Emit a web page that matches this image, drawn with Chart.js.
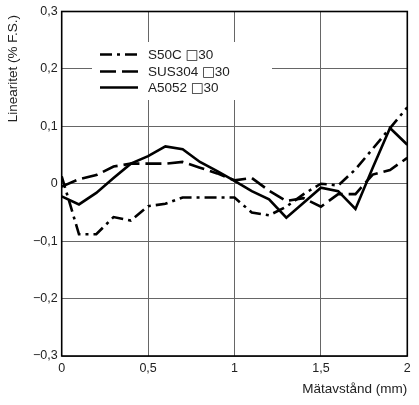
<!DOCTYPE html>
<html>
<head>
<meta charset="utf-8">
<script src="https://cdn.jsdelivr.net/npm/chart.js@4"></script>
<style>
html,body{margin:0;padding:0;background:#fff;}
#wrap{width:419px;height:405px;}
</style>
</head>
<body>
<div id="wrap"><canvas id="c" width="419" height="405"></canvas></div>
<script>
const xValues = [0,0.1,0.2,0.3,0.4,0.5,0.6,0.7,0.8,0.9,1.0,1.1,1.2,1.3,1.4,1.5,1.6,1.7,1.8,1.9,2.0];
const s50c   = [0.013,-0.088,-0.088,-0.058,-0.064,-0.039,-0.035,-0.024,-0.024,-0.024,-0.024,-0.050,-0.055,-0.040,-0.018,0.000,-0.003,0.025,0.061,0.097,0.133];
const sus304 = [-0.005,0.008,0.015,0.030,0.035,0.035,0.035,0.038,0.028,0.018,0.006,0.010,-0.012,-0.030,-0.025,-0.040,-0.018,-0.018,0.016,0.024,0.045];
const a5052  = [-0.022,-0.036,-0.016,0.010,0.035,0.048,0.065,0.060,0.038,0.022,0.005,-0.013,-0.027,-0.059,-0.033,-0.007,-0.013,-0.044,0.028,0.097,0.068];
const seriesLabels = ['S50C \u25A130','SUS304 \u25A130','A5052 \u25A130'];
const xTickValues = [0,0.5,1,1.5,2];
const xTickLabels = ['0','0,5','1','1,5','2'];
const yTickValues = [-0.3,-0.2,-0.1,0,0.1,0.2,0.3];
const yTickLabels = ['\u22120,3','\u22120,2','\u22120,1','0','0,1','0,2','0,3'];
const xTitle = 'M\u00e4tavst\u00e5nd (mm)';
const yTitle = 'Linearitet (% F.S.)';

const FONT = '"Liberation Sans", Arial, Helvetica, sans-serif';

function pts(arr){ return arr.map((v,i)=>({x:xValues[i], y:v})); }

// draws text, using DejaVu Sans for the square symbol so it is full-size
function drawLabel(ctx, text, x, y, size){
  const parts = text.split(/(\u25A1)/);
  let cx = x;
  parts.forEach(p => {
    if (!p) return;
    ctx.font = (p === '\u25A1' ? size + 'px "DejaVu Sans"' : size + 'px ' + FONT);
    ctx.fillText(p, cx, y);
    cx += ctx.measureText(p).width;
  });
}

const frame = {
  id:'frame',
  beforeDatasetsDraw(chart){
    const {ctx} = chart;
    ctx.save();
    ctx.fillStyle = '#fff';
    ctx.fillRect(92, 42, 180, 58);
    ctx.restore();
  },
  afterDatasetsDraw(chart){
    const {ctx, chartArea:a} = chart;
    ctx.save();
    ctx.strokeStyle = '#000';
    ctx.lineWidth = 1.6;
    ctx.strokeRect(a.left, a.top, a.right-a.left, a.bottom-a.top);
    const rows = [54.5, 71.5, 87.5];
    chart.data.datasets.forEach((ds, i) => {
      ctx.strokeStyle = '#000';
      ctx.lineWidth = 2.6;
      ctx.setLineDash(ds.borderDash || []);
      ctx.beginPath();
      ctx.moveTo(100, rows[i]);
      ctx.lineTo(138, rows[i]);
      ctx.stroke();
      ctx.setLineDash([]);
      ctx.fillStyle = '#222';
      ctx.textBaseline = 'middle';
      ctx.textAlign = 'left';
      drawLabel(ctx, ds.label, 148, rows[i] + 1, 13.5);
    });
    ctx.translate(13, 15);
    ctx.rotate(-Math.PI/2);
    ctx.font = '13.5px ' + FONT;
    ctx.fillStyle = '#222';
    ctx.textAlign = 'right';
    ctx.textBaseline = 'middle';
    ctx.fillText(yTitle, 0, 0);
    ctx.restore();
  }
};

const common = {borderColor:'#000', borderWidth:2.6, pointRadius:0, tension:0, fill:false, borderCapStyle:'butt', borderJoinStyle:'miter'};

new Chart(document.getElementById('c'), {
  type:'line',
  data:{
    datasets:[
      Object.assign({label:seriesLabels[0], data:pts(s50c), borderDash:[12,5,3,5]}, common),
      Object.assign({label:seriesLabels[1], data:pts(sus304), borderDash:[16,6]}, common),
      Object.assign({label:seriesLabels[2], data:pts(a5052)}, common)
    ]
  },
  options:{
    responsive:false,
    animation:false,
    layout:{padding:{left:0, right:11.7, top:9.5, bottom:8}},
    plugins:{legend:{display:false}, tooltip:{enabled:false}},
    scales:{
      x:{
        type:'linear', min:0, max:2,
        afterBuildTicks(s){ s.ticks = xTickValues.map(v=>({value:v})); },
        afterFit(s){ s.height = 41; },
        ticks:{font:{size:12.5, family:FONT}, color:'#222', padding:5, maxRotation:0,
          callback:(v)=>xTickLabels[xTickValues.indexOf(v)]},
        grid:{color:'#666', lineWidth:1, drawTicks:false},
        border:{display:false},
        title:{display:true, text:xTitle, align:'end', font:{size:13.5, family:FONT}, color:'#222', padding:{top:10, bottom:0}}
      },
      y:{
        type:'linear', min:-0.3, max:0.3,
        afterBuildTicks(s){ s.ticks = yTickValues.map(v=>({value:v})); },
        afterFit(s){ s.width = 61.7; },
        ticks:{font:{size:12.5, family:FONT}, color:'#222', padding:4,
          callback:(v)=>yTickLabels[yTickValues.findIndex(t=>Math.abs(t-v)<1e-9)]},
        grid:{color:'#666', lineWidth:1, drawTicks:false},
        border:{display:false}
      }
    }
  },
  plugins:[frame]
});
</script>
</body>
</html>
